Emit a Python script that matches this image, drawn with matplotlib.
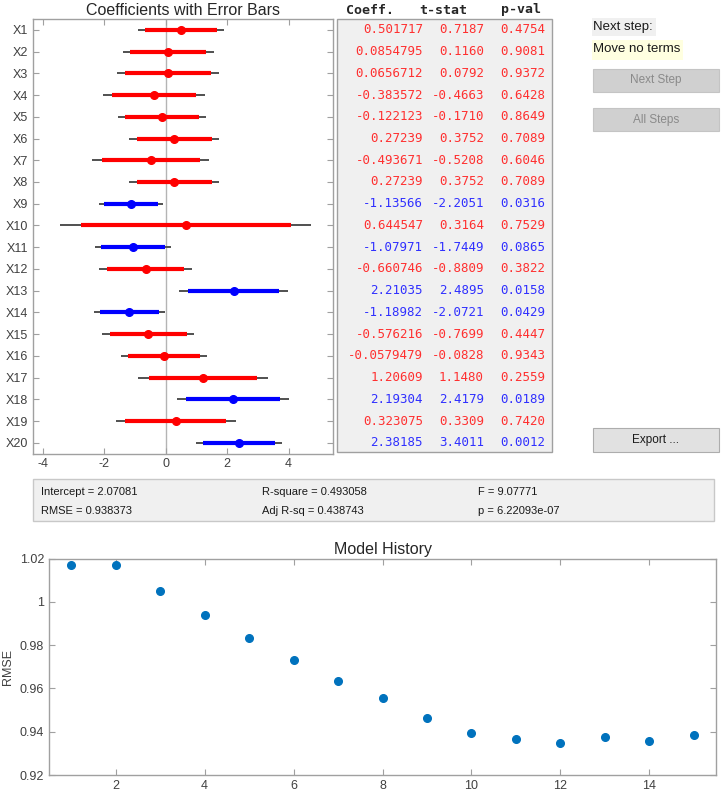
import numpy as np
import matplotlib
matplotlib.use("Agg")
from matplotlib import pyplot as plt
from matplotlib.patches import Rectangle

plt.rcParams['font.family'] = ['Liberation Sans', 'DejaVu Sans']
plt.rcParams['axes.unicode_minus'] = False

# --- data ---
terms = ['X%d' % i for i in range(1, 21)]
coef = [0.501717, 0.0854795, 0.0656712, -0.383572, -0.122123, 0.27239, -0.493671,
        0.27239, -1.13566, 0.644547, -1.07971, -0.660746, 2.21035, -1.18982,
        -0.576216, -0.0579479, 1.20609, 2.19304, 0.323075, 2.38185]
tstat = [0.7187, 0.1160, 0.0792, -0.4663, -0.1710, 0.3752, -0.5208, 0.3752,
         -2.2051, 0.3164, -1.7449, -0.8809, 2.4895, -2.0721, -0.7699, -0.0828,
         1.1480, 2.4179, 0.3309, 3.4011]
pval = [0.4754, 0.9081, 0.9372, 0.6428, 0.8649, 0.7089, 0.6046, 0.7089, 0.0316,
        0.7529, 0.0865, 0.3822, 0.0158, 0.0429, 0.4447, 0.9343, 0.2559, 0.0189,
        0.7420, 0.0012]
coef_txt = ['0.501717', '0.0854795', '0.0656712', '-0.383572', '-0.122123', '0.27239',
            '-0.493671', '0.27239', '-1.13566', '0.644547', '-1.07971', '-0.660746',
            '2.21035', '-1.18982', '-0.576216', '-0.0579479', '1.20609', '2.19304',
            '0.323075', '2.38185']
in_model = [False, False, False, False, False, False, False, False, True, False,
            True, False, True, True, False, False, False, True, False, True]

stats_rows = [['Intercept = 2.07081', 'R-square = 0.493058', 'F = 9.07771'],
              ['RMSE = 0.938373', 'Adj R-sq = 0.438743', 'p = 6.22093e-07']]

steps = list(range(1, 16))
rmse_hist = [1.0168, 1.0168, 1.0051, 0.9940, 0.9833, 0.9731, 0.9635, 0.9554,
             0.9465, 0.9394, 0.9364, 0.9347, 0.9376, 0.9356, 0.9384]

# confidence intervals from the coefficient table (t quantiles)
coef_a = np.array(coef)
se = coef_a / np.array(tstat)
t95, t90 = 2.01, 1.68

W, H = 724, 796
fig = plt.figure(figsize=(W / 100, H / 100), dpi=100)
AX_COL = '#a0a0a0'
TXT_COL = '#404040'


def px_axes(x0, y0, x1, y1):
    return fig.add_axes([x0 / W, 1 - y1 / H, (x1 - x0) / W, (y1 - y0) / H])


def style_box(ax):
    for s in ax.spines.values():
        s.set_color(AX_COL)
        s.set_linewidth(1.0)
    ax.tick_params(direction='in', colors=AX_COL, labelcolor=TXT_COL,
                   top=True, right=True, length=4, labelsize=9)


# --- coefficient plot ---
ax = px_axes(33, 19, 333, 453.6)
ax.axvline(0, color='#b4b4b4', lw=1, zorder=1)
ypos = np.arange(1, 21)
for i in range(20):
    c = 'blue' if in_model[i] else 'red'
    ax.plot([coef[i] - t95 * se[i], coef[i] + t95 * se[i]], [ypos[i]] * 2,
            color='#505050', lw=1.4, solid_capstyle='butt', zorder=2)
    ax.plot([coef[i] - t90 * se[i], coef[i] + t90 * se[i]], [ypos[i]] * 2,
            color=c, lw=3.0, solid_capstyle='butt', zorder=3)
    ax.plot(coef[i], ypos[i], 'o', color=c, ms=5.5, zorder=4)
ax.set_xlim(-4.33, 5.45)
ax.set_ylim(20.5, 0.5)
ax.set_xticks([-4, -2, 0, 2, 4])
ax.set_yticks(ypos)
ax.set_yticklabels(terms)
style_box(ax)
ax.set_title('Coefficients with Error Bars', fontsize=11.5, color='#262626', pad=3)

# --- bottom history plot ---
bx = px_axes(49, 558.5, 716, 775)
bx.plot(steps, rmse_hist, 'o', color='#0072BD', ms=5.5)
bx.set_xlim(0.5, 15.5)
bx.set_ylim(0.92, 1.02)
bx.set_xticks(range(2, 15, 2))
bx.set_yticks([0.92, 0.94, 0.96, 0.98, 1.0, 1.02])
bx.set_yticklabels(['0.92', '0.94', '0.96', '0.98', '1', '1.02'])
style_box(bx)
bx.set_title('Model History', fontsize=11.5, color='#262626', pad=3)
bx.set_ylabel('RMSE', fontsize=9, color=TXT_COL, labelpad=4)

# --- GUI overlay in pixel coords ---
ov = fig.add_axes([0, 0, 1, 1], zorder=-1)
ov.set_xlim(0, W)
ov.set_ylim(H, 0)
ov.axis('off')

# table panel
ov.add_patch(Rectangle((337, 19), 552 - 337, 452 - 19, facecolor='#f0f0f0',
                       edgecolor='#a0a0a0', lw=1))
for x, lab in [(346, 'Coeff.'), (419, 't-stat'), (501, 'p-val')]:
    ov.text(x, 10, lab, family='DejaVu Sans Mono', fontsize=9.5, fontweight='bold',
            color='#262626', va='center', ha='left')
ycoords = ax.transData.transform(np.column_stack([np.zeros(20), ypos]))
for i in range(20):
    yy = H - ycoords[i, 1]
    c = '#3030ff' if in_model[i] else '#ff3030'
    ov.text(423, yy, coef_txt[i], family='DejaVu Sans Mono', fontsize=9,
            color=c, ha='right', va='center')
    ov.text(484, yy, '%.4f' % tstat[i], family='DejaVu Sans Mono', fontsize=9,
            color=c, ha='right', va='center')
    ov.text(545, yy, '%.4f' % pval[i], family='DejaVu Sans Mono', fontsize=9,
            color=c, ha='right', va='center')

# right side controls
ov.add_patch(Rectangle((592, 18), 64, 18, facecolor='#f0f0f0', edgecolor='none'))
ov.text(593, 27, 'Next step:', fontsize=9.5, color='#1a1a1a', va='center')
ov.add_patch(Rectangle((592, 40), 91, 20, facecolor='#ffffe0', edgecolor='none'))
ov.text(593, 49, 'Move no terms', fontsize=9.5, color='#1a1a1a', va='center')
for y0, lab in [(69, 'Next Step'), (108, 'All Steps')]:
    ov.add_patch(Rectangle((593, y0), 126, 23, facecolor='#d0d0d0', edgecolor='#c4c4c4', lw=0.8))
    ov.text(656, y0 + 11.5, lab, fontsize=8.5, color='#8a8a8a', ha='center', va='center')
ov.add_patch(Rectangle((593, 428), 126, 24, facecolor='#e1e1e1', edgecolor='#adadad', lw=0.8))
ov.text(656, 440, 'Export ...', fontsize=8.5, color='#1a1a1a', ha='center', va='center')

# stats panel
ov.add_patch(Rectangle((33, 479), 714 - 33, 521 - 479, facecolor='#f0f0f0',
                       edgecolor='#c8c8c8', lw=1))
for r, row in enumerate(stats_rows):
    for x, txt in zip([41, 262, 478], row):
        ov.text(x, 492 + r * 18.5, txt, fontsize=8, color='#1a1a1a', va='center')

fig.savefig('out.png', dpi=100, facecolor='white')
